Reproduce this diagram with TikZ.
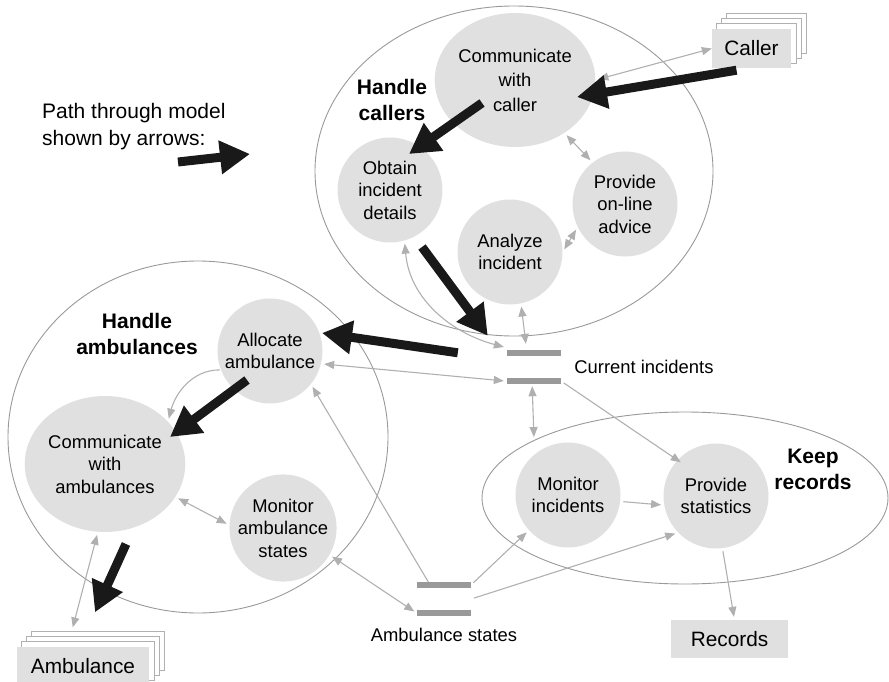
\documentclass[tikz,border=0pt]{standalone}
\usepackage{fontspec}
\setmainfont{Liberation Sans}
\usetikzlibrary{arrows.meta,positioning,shapes.geometric,backgrounds}
\definecolor{ProcClr}{rgb}{0.88,0.88,0.88}
\definecolor{GroupClr}{rgb}{0.6,0.6,0.6}
\definecolor{FlowClr}{rgb}{0.69,0.69,0.69}
\definecolor{StoreClr}{rgb}{0.6,0.6,0.6}
\definecolor{PathClr}{rgb}{0.1,0.1,0.1}

\tikzset{
  process/.style={circle,fill=ProcClr,minimum size=105pt,inner sep=0pt,align=center,
    font=\fontsize{18.4}{22.5}\selectfont},
  group/.style={ellipse,draw=GroupClr,line width=0.9pt,inner sep=0pt},
  grouplabel/.style={align=center,inner sep=0pt,font=\fontsize{21}{26}\selectfont\bfseries},
  store/.style={minimum width=54pt,minimum height=28pt,inner sep=0pt},
  storelabel/.style={inner sep=0pt,font=\fontsize{18.4}{22}\selectfont},
  entity/.style={fill=ProcClr,minimum height=39pt,inner sep=0pt,font=\fontsize{20.8}{25}\selectfont},
  stackbox/.style={draw=FlowClr,fill=white,line width=0.9pt},
  flow/.style={draw=FlowClr,line width=1.1pt,>={Triangle[length=10pt,width=8pt]},
    shorten >=3pt,shorten <=3pt},
  pathArrow/.style={draw=PathClr,line width=9pt,-{Triangle[length=30pt,width=32pt]}}
}

\begin{document}
\begin{tikzpicture}[x=1pt,y=1pt]
\useasboundingbox (0,0) rectangle (889,-682);

\node[group,minimum width=398pt,minimum height=330pt] (callers) at (514,-171) {};
\node[group,minimum width=380pt,minimum height=352pt] (ambulances) at (198,-437) {};
\node[group,minimum width=406pt,minimum height=172pt] (keep) at (685,-498) {};

\node[process,ellipse,minimum width=144pt,minimum height=134pt,
  font=\fontsize{18.4}{24.5}\selectfont] (comcaller) at (515,-80) {Communicate\\with\\caller};
\node[process] (obtain) at (390,-190) {Obtain\\incident\\details};
\node[process] (analyze) at (510,-252) {Analyze\\incident};
\node[process] (advice) at (625,-204) {Provide\\on-line\\advice};
\node[process] (allocate) at (270,-351) {Allocate\\ambulance};
\node[process,ellipse,minimum width=156pt,minimum height=136pt] (comamb) at (105,-464) {Communicate\\with\\ambulances};
\node[process] (monamb) at (283,-528) {Monitor\\ambulance\\states};
\node[process] (monitor) at (568,-495) {Monitor\\incidents};
\node[process] (stats) at (716,-496) {Provide\\statistics};

\node[store] (curinc) at (534,-367) {};
\node[store] (ambst) at (444,-599) {};
\foreach \s in {curinc,ambst}
  \draw[StoreClr,line width=6pt] (\s.north west) -- (\s.north east) (\s.south west) -- (\s.south east);
\node[storelabel,right=13pt of curinc] (curinclabel) {Current incidents};
\node[storelabel,below=15pt of ambst] (ambstlabel) {Ambulance states};

\node[entity,minimum width=79pt] (caller) at (751.5,-48.5) {Caller};
\node[entity,minimum width=132pt] (amb) at (83,-666) {Ambulance};
\node[entity,minimum width=117pt,minimum height=38pt] (rec) at (729.5,-639) {Records};
\begin{scope}[on background layer]
\foreach \e in {caller,amb}
  \foreach \k in {3,2,1}
    \draw[stackbox] ([shift={(5*\k,5*\k)}]\e.south west) rectangle ([shift={(5*\k,5*\k)}]\e.north east);
\end{scope}

\node[grouplabel] (callerslabel) at (392,-100) {Handle\\callers};
\node[grouplabel] (ambulanceslabel) at (137,-334) {Handle\\ambulances};
\node[grouplabel] (keeplabel) at (813,-469) {Keep\\records};
\node[anchor=west,align=left,inner sep=0pt,font=\fontsize{21}{27}\selectfont] (legend) at (42,-127)
  {Path through model\\shown by arrows:};

\draw[flow,<->,shorten >=0pt] (comcaller.east) -- (caller.west);
\draw[flow,<->] (comcaller.-47) -- (advice.128);
\draw[flow,<->] (analyze.east) -- (advice.206);
\draw[flow,<->,shorten >=9pt] (analyze.-78) -- ([xshift=-7pt]curinc.north);
\draw[flow,<->] (obtain.-74) to[out=-85,in=165] ([yshift=5pt]curinc.north west);
\draw[flow,<->] (allocate.-14) -- (curinc.south west);
\draw[flow,->] ([xshift=-14pt]ambst.north) -- (allocate.-39);
\draw[flow,<->] (monamb.-30) -- (ambst.south west);
\draw[flow,<->] (comamb.-25) -- (monamb.177);
\draw[flow,->,shorten <=1pt] (allocate.201) to[out=180,in=75] (comamb.34);
\draw[flow,<->] (comamb.-96) -- ([shift={(-11,16)}]amb.north);
\draw[flow,<->,shorten <=5pt] ([xshift=-2pt]curinc.south) -- (keep.159);
\draw[flow,->,shorten >=-4pt] (curinc.south east) -- (stats.137);
\draw[flow,->] (monitor.-7) -- (stats.190);
\draw[flow,->] (ambst.north east) -- (monitor.222);
\draw[flow,->] (ambst.east) -- (stats.224);
\draw[flow,->] (stats.-83) -- ([xshift=5pt]rec.north);

\draw[pathArrow] ([shift={(-15,-2)}]caller.south) -- ([shift={(62,-17)}]comcaller.center);
\draw[pathArrow] ([shift={(-33,-23)}]comcaller.center) -- ([shift={(19,36)}]obtain.center);
\draw[pathArrow] ([shift={(32,-57)}]obtain.center) -- ([shift={(-19,17)}]curinc.north west);
\draw[pathArrow] ([shift={(-49,0)}]curinc.north west) -- ([shift={(52,18)}]allocate.center);
\draw[pathArrow] ([shift={(-23,-29)}]allocate.center) -- ([shift={(65,27)}]comamb.center);
\draw[pathArrow] ([shift={(21,-80)}]comamb.center) -- ([shift={(12,34)}]amb.north);
\draw[pathArrow] ([shift={(136,-35)}]legend.west) -- ([shift={(208,-27)}]legend.west);
\end{tikzpicture}
\end{document}
